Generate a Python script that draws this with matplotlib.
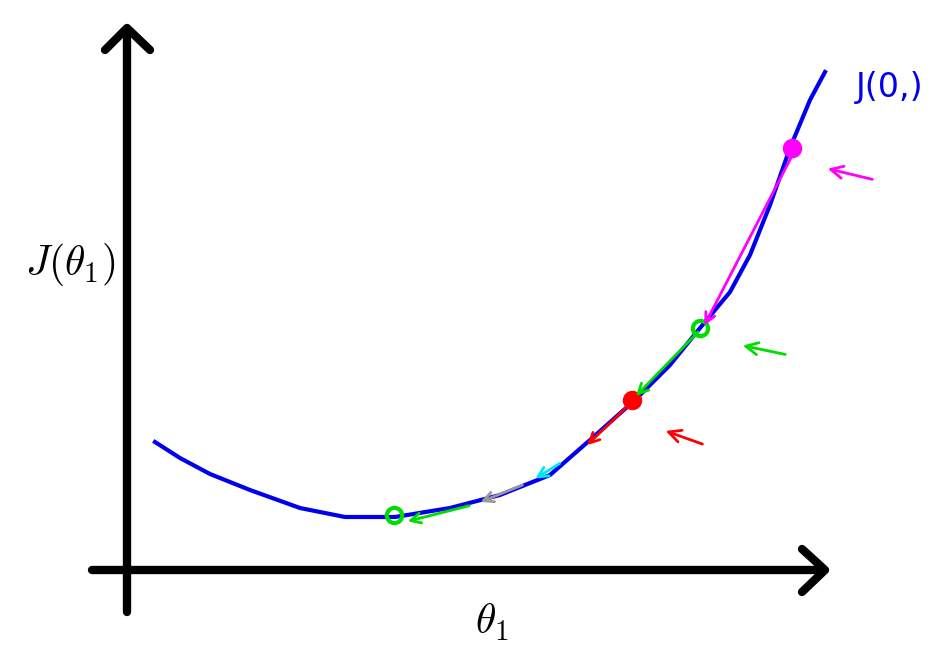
import matplotlib
matplotlib.use("Agg")
import matplotlib.pyplot as plt
plt.rcParams["mathtext.fontset"] = "cm"

# curve J(theta1), in picture coordinates
curve_x = [155, 180, 210, 250, 300, 345, 395, 450, 500, 550, 590, 635, 670, 700, 730, 750, 770, 790, 810, 825]
curve_y = [442, 458, 474, 490, 508, 517, 517, 508, 495, 475, 440, 400, 365, 328, 292, 255, 205, 148, 100, 72]

# gradient steps: (x0, y0, x1, y1, colour)
steps = [
    (795, 150, 703, 328, "#ff00ff"),
    (700, 330, 634, 398, "#00dd00"),
    (632, 402, 585, 447, "#ff0000"),
    (562, 462, 533, 480, "#00e5ee"),
    (525, 484, 478, 503, "#999999"),
    (472, 505, 405, 522, "#00dd00"),
]
points = [(792, 148, "#ff00ff"), (700, 328, "#00dd00"), (632, 400, "#ff0000"), (394, 515, "#00dd00")]
side_arrows = [(875, 180, 825, 168, "#ff00ff"), (788, 355, 740, 345, "#00dd00"),
               (705, 445, 663, 430, "#ff0000")]

fig = plt.figure(figsize=(9.53, 6.46), dpi=100)
ax = fig.add_axes([0, 0, 1, 1])
ax.set_xlim(0, 953)
ax.set_ylim(646, 0)
ax.axis("off")

# axes
ax.plot([127, 127], [612, 32], color="black", lw=6, solid_capstyle="round")
ax.plot([105, 127, 150], [50, 28, 50], color="black", lw=6, solid_capstyle="round", solid_joinstyle="round")
ax.plot([92, 822], [570, 570], color="black", lw=6, solid_capstyle="round")
ax.plot([802, 825, 802], [549, 570, 592], color="black", lw=6, solid_capstyle="round", solid_joinstyle="round")

ax.plot(curve_x, curve_y, color="#0000ee", lw=3)

for x0, y0, x1, y1, c in steps:
    ax.annotate("", xy=(x1, y1), xytext=(x0, y0),
                arrowprops=dict(arrowstyle="->", color=c, lw=2, mutation_scale=18))
for x, y, c in points:
    ax.plot([x], [y], "o", ms=11, mfc="none", mec=c, mew=3)
ax.plot([792], [148], "o", ms=9, color="#ff00ff")
ax.plot([632], [400], "o", ms=11, color="#ff0000")
for x0, y0, x1, y1, c in side_arrows:
    ax.annotate("", xy=(x1, y1), xytext=(x0, y0),
                arrowprops=dict(arrowstyle="->", color=c, lw=2, mutation_scale=22))

ax.text(70, 265, r"$J(\theta_1)$", fontsize=30, ha="center", va="center")
ax.text(492, 622, r"$\theta_1$", fontsize=30, ha="center", va="center")
ax.text(890, 88, "J(0,)", fontsize=24, color="#0000ee", ha="center", va="center")

fig.savefig("out.png", dpi=100)
